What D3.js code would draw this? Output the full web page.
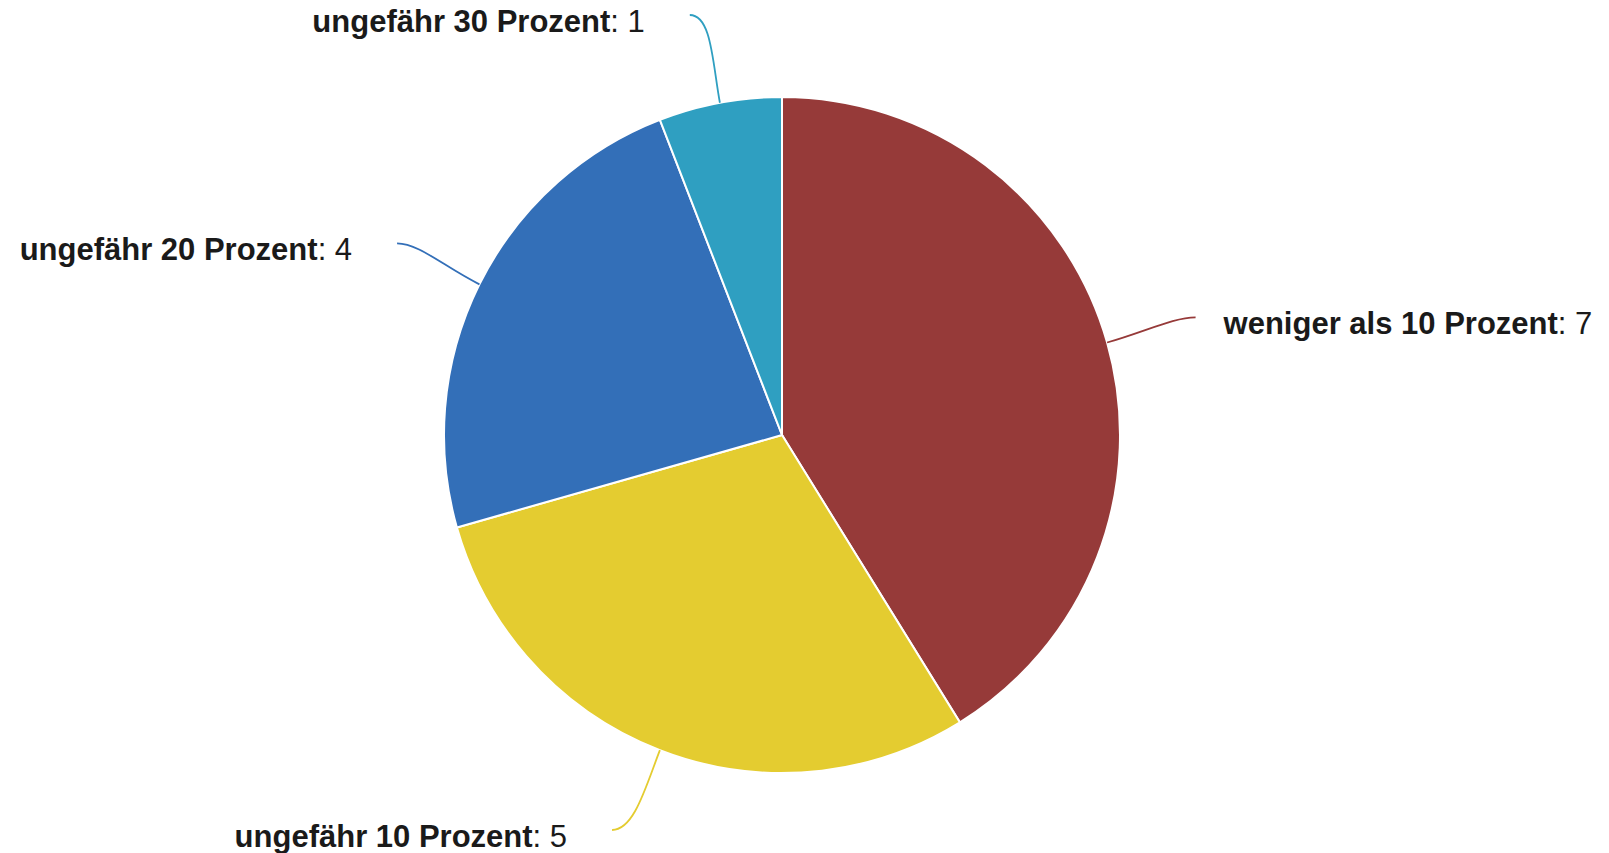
<!DOCTYPE html>
<html>
<head>
<meta charset="utf-8">
<script src="https://cdn.jsdelivr.net/npm/d3@7"></script>
<style>
  body { margin: 0; background: #fff; }
  svg { display: block; }
</style>
</head>
<body>
<div id="chart"></div>
<script>
// data
var categories = ["weniger als 10 Prozent", "ungefähr 10 Prozent", "ungefähr 20 Prozent", "ungefähr 30 Prozent"];
var values = [7, 5, 4, 1];
var colors = ["#963a39", "#e4cc30", "#336fb8", "#2f9fc1"];

let width = 1609;
let height = 853;
let cx = 782;
let cy = 435;
let radius = 338;
let lineRadius = 430;
let minY = 15 - cy;   // keep labels inside the picture
let maxY = 830 - cy;

var svg = d3.select("#chart")
  .append("svg")
    .attr("width", width)
    .attr("height", height);

var color = d3.scaleOrdinal()
  .domain(categories)
  .range(colors);

var pie = d3.pie()
  .sort(null)
  .value(function (d) { return d.value; });

var arc = d3.arc()
  .innerRadius(0)
  .outerRadius(radius);

var data = categories.map(function (c, i) {
  return { name: c, value: values[i] };
});

var arcs = pie(data);

var g = svg.append("g")
  .attr("transform", "translate(" + cx + "," + cy + ")");

g.selectAll(".slice")
  .data(arcs)
  .enter()
  .append("path")
    .attr("class", "slice")
    .attr("d", arc)
    .attr("fill", function (d) { return color(d.data.name); })
    .attr("stroke", "#fff")
    .attr("stroke-width", 2);

function polar(r, a) {
  return [r * Math.sin(a), -r * Math.cos(a)];
}

function midAngle(d) {
  return (d.startAngle + d.endAngle) / 2;
}

// end of the leader line, slid along the circle if it would leave the picture
function labelPoint(d) {
  let p = polar(lineRadius, midAngle(d));
  let y = Math.max(minY, Math.min(maxY, p[1]));
  if (y !== p[1]) {
    let x = Math.sqrt(lineRadius * lineRadius - y * y);
    p = [p[0] < 0 ? -x : x, y];
  }
  return p;
}

// leader lines: leave the pie radially, arrive horizontally at the label
g.selectAll(".leader")
  .data(arcs)
  .enter()
  .append("path")
    .attr("class", "leader")
    .attr("fill", "none")
    .attr("stroke", function (d) { return color(d.data.name); })
    .attr("stroke-width", 1.8)
    .attr("d", function (d) {
      let a = midAngle(d);
      let p0 = polar(radius, a);
      let c1 = polar(radius + 40, a);
      let p1 = labelPoint(d);
      let side = p1[0] > 0 ? 1 : -1;
      let c2 = [p1[0] - side * 22, p1[1]];
      return "M" + p0[0] + "," + p0[1] +
             "C" + c1[0] + "," + c1[1] +
             " " + c2[0] + "," + c2[1] +
             " " + p1[0] + "," + p1[1];
    });

var label = g.selectAll(".label")
  .data(arcs)
  .enter()
  .append("text")
    .attr("class", "label")
    .style("font-family", "'Liberation Sans', Arial, sans-serif")
    .style("font-size", "31px")
    .attr("fill", "#1a1a1a")
    .attr("text-anchor", function (d) {
      return labelPoint(d)[0] > 0 ? "start" : "end";
    })
    .attr("x", function (d) {
      let p = labelPoint(d);
      return p[0] > 0 ? p[0] + 28 : p[0] - 45;
    })
    .attr("y", function (d) {
      return labelPoint(d)[1] + 17;
    });

label.append("tspan")
  .style("font-weight", "bold")
  .text(function (d) { return d.data.name; });

label.append("tspan")
  .text(function (d) { return ": " + d.data.value; });
</script>
</body>
</html>
